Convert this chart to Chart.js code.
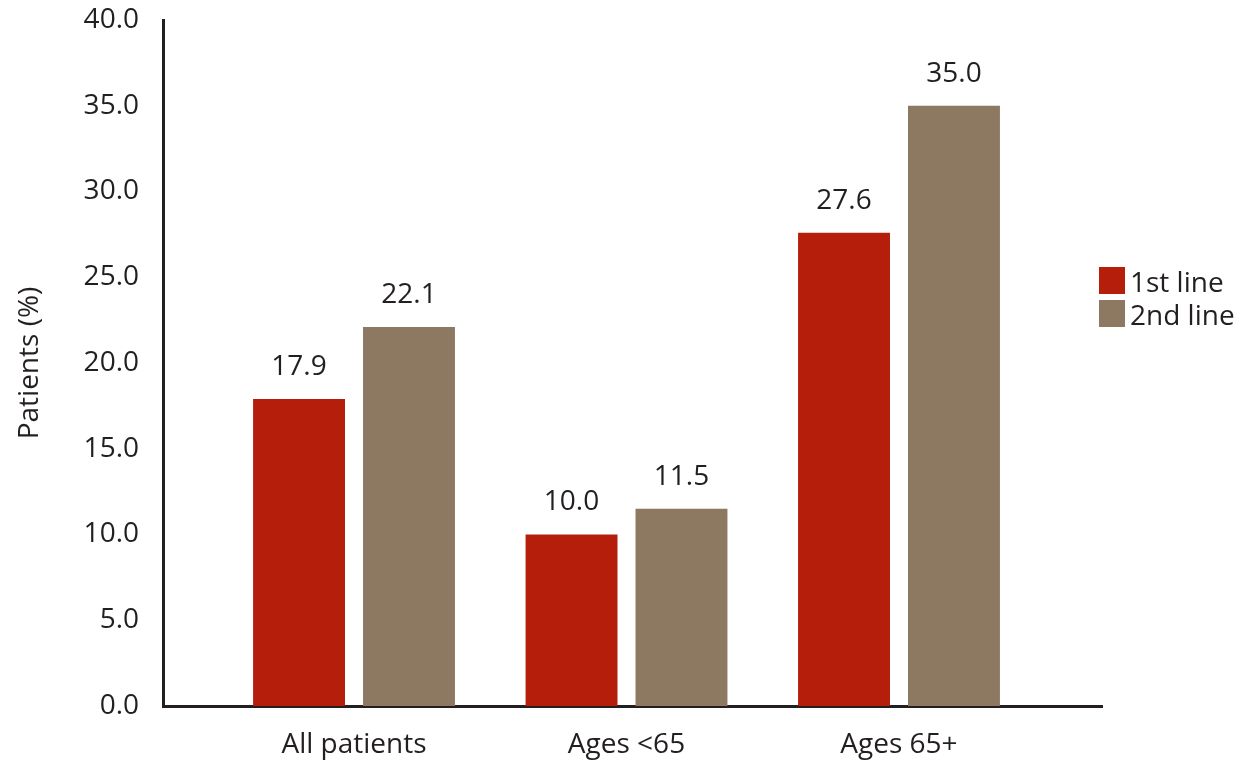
<!DOCTYPE html>
<html>
<head>
<meta charset="utf-8">
<script src="https://cdn.jsdelivr.net/npm/chart.js@4"></script>
<style>
  body { margin: 0; background: #fff; }
  #wrap { position: relative; width: 1244px; height: 760px; }
  #legend { position: absolute; left: 1099px; top: 264px; font: 28px "Open Sans", sans-serif; color: #231f20; }
  #legend div { display: flex; align-items: center; height: 33px; }
  #legend span.box { display: inline-block; width: 26px; height: 27px; margin-right: 5px; }
</style>
</head>
<body>
<div id="wrap">
  <canvas id="chart" width="1244" height="760"></canvas>
  <div id="legend"></div>
</div>
<script>
// chart data
const categories = ['All patients', 'Ages <65', 'Ages 65+'];
const seriesNames = ['1st line', '2nd line'];
const firstLine = [17.9, 10.0, 27.6];
const secondLine = [22.1, 11.5, 35.0];
const colors = ['#b41e0a', '#8d7861'];

const FONT = '"Open Sans", sans-serif';
const ink = '#231f20';

// value labels above each bar
const barLabels = {
  id: 'barLabels',
  afterDatasetsDraw(chart) {
    const ctx = chart.ctx;
    ctx.save();
    ctx.font = '28px ' + FONT;
    ctx.fillStyle = ink;
    ctx.textAlign = 'center';
    ctx.textBaseline = 'middle';
    chart.data.datasets.forEach((ds, i) => {
      chart.getDatasetMeta(i).data.forEach((bar, j) => {
        ctx.fillText(ds.data[j].y.toFixed(1), bar.x, bar.y - 32);
      });
    });
    ctx.restore();
  }
};

const toPoints = arr => arr.map((v, i) => ({ x: i, y: v }));

new Chart(document.getElementById('chart'), {
  type: 'bar',
  data: {
    datasets: [
      { label: seriesNames[0], data: toPoints(firstLine), backgroundColor: colors[0] },
      { label: seriesNames[1], data: toPoints(secondLine), backgroundColor: colors[1] }
    ]
  },
  options: {
    responsive: false,
    animation: false,
    categoryPercentage: 0.807,
    barPercentage: 0.836,
    layout: { padding: { left: 0, right: 142, top: 0, bottom: 0 } },
    plugins: { legend: { display: false }, tooltip: { enabled: false } },
    scales: {
      x: {
        type: 'linear',
        offset: false,
        min: -0.701,
        max: 2.745,
        grid: { display: false, drawTicks: false },
        border: { display: true, color: ink, width: 3 },
        afterBuildTicks: s => { s.ticks = categories.map((c, i) => ({ value: i })); },
        afterFit: s => { s.height = 54; },
        ticks: {
          padding: 22,
          color: ink,
          font: { family: FONT, size: 28 },
          callback: v => categories[v]
        }
      },
      y: {
        min: 0,
        max: 40,
        grid: { display: false, drawTicks: false },
        border: { display: true, color: ink, width: 3 },
        afterFit: s => { s.width = 163; s.paddingTop = 20; s.paddingBottom = 0; },
        ticks: {
          stepSize: 5,
          padding: 24,
          color: ink,
          font: { family: FONT, size: 28 },
          callback: v => v.toFixed(1)
        },
        title: {
          display: true,
          text: 'Patients (%)',
          color: ink,
          font: { family: FONT, size: 28 },
          padding: { top: 13, bottom: 0 }
        }
      }
    }
  },
  plugins: [barLabels]
});

// legend
document.getElementById('legend').innerHTML = seriesNames.map((n, i) =>
  `<div><span class="box" style="background:${colors[i]}"></span>${n}</div>`
).join('');
</script>
</body>
</html>
